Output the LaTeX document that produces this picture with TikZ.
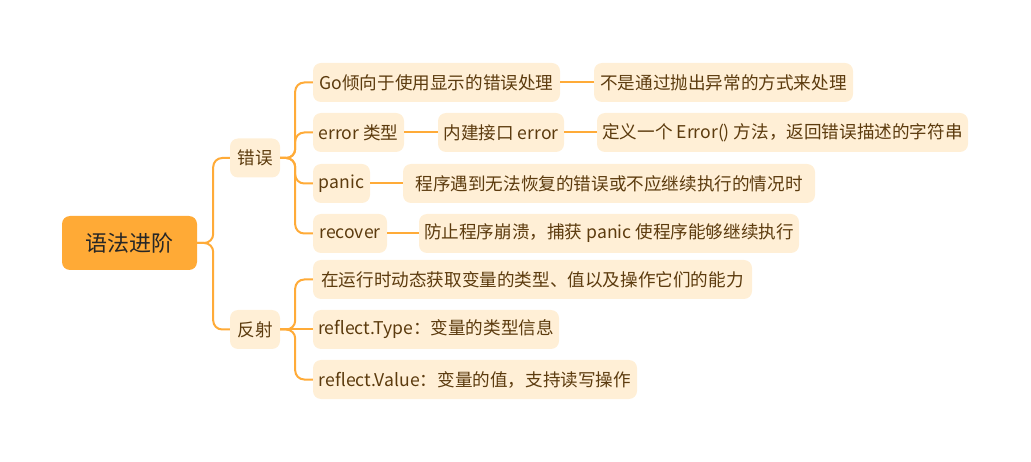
\documentclass[tikz,border=0pt]{standalone}
\usepackage{fontspec}
\setmainfont{Noto Sans CJK SC}
\definecolor{lineC}{HTML}{FFAB38}
\definecolor{rootC}{HTML}{FFAA36}
\definecolor{leafC}{HTML}{FFEFD6}
\definecolor{textC}{HTML}{5C3B0E}
\tikzset{
  leaf/.style={draw=none, fill=leafC, rounded corners=8pt, inner sep=0pt,
    minimum height=39pt, text=textC, font=\fontsize{17.6pt}{20pt}\selectfont},
  rootbox/.style={draw=none, fill=rootC, rounded corners=8pt, inner sep=0pt,
    minimum width=135pt, minimum height=54pt, text=black!85, font=\fontsize{22pt}{25pt}\selectfont},
  link/.style={draw=lineC, line width=2pt},
  elbow/.style={draw=lineC, line width=2pt, rounded corners=9pt},
}
\begin{document}
\begin{tikzpicture}[x=1pt, y=-1pt]
\useasboundingbox (0,0) rectangle (1031,462);

\node[rootbox] (root) at (129.5,243) {语法进阶};

\node[leaf, minimum width=50pt] (err) at (255,158) {错误};
\node[leaf, minimum width=50pt] (refl) at (255,329.5) {反射};

\node[leaf, minimum width=247pt] (go) at (436.5,82.5) {Go倾向于使用显示的错误处理};
\node[leaf, minimum width=259pt] (go2) at (723.5,82.5) {不是通过抛出异常的方式来处理};

\node[leaf, minimum width=91pt] (etype) at (358.5,132.5) {error 类型};
\node[leaf, minimum width=126pt] (eiface) at (501,132.5) {内建接口 error};
\node[leaf, minimum width=371pt] (edef) at (782.5,132.5) {定义一个 Error() 方法，返回错误描述的字符串};

\node[leaf, minimum width=57pt] (panic) at (341.5,183.5) {panic};
\node[leaf, minimum width=412pt] (panicd) at (609,183.5) {程序遇到无法恢复的错误或不应继续执行的情况时};

\node[leaf, minimum width=74pt] (recov) at (350,233.5) {recover};
\node[leaf, minimum width=380pt] (recovd) at (609,233.5) {防止程序崩溃，捕获 panic 使程序能够继续执行};

\node[leaf, minimum width=439pt] (r1) at (532.5,279.5) {在运行时动态获取变量的类型、值以及操作它们的能力};
\node[leaf, minimum width=246pt] (r2) at (436,329.5) {reflect.Type：变量的类型信息};
\node[leaf, minimum width=324pt] (r3) at (475,379.5) {reflect.Value：变量的值，支持读写操作};

% root connectors
\draw[elbow] (root.east) -- ++(16,0) |- (err.west);
\draw[elbow] (root.east) -- ++(16,0) |- (refl.west);

% error connectors
\draw[elbow] (err.east) -- ++(15,0) |- (go.west);
\draw[elbow] (err.east) -- ++(15,0) |- (etype.west);
\draw[elbow] (err.east) -- ++(15,0) |- (panic.west);
\draw[elbow] (err.east) -- ++(15,0) |- (recov.west);

% reflect connectors
\draw[elbow] (refl.east) -- ++(15,0) |- (r1.west);
\draw[link] (refl.east) -- (r2.west);
\draw[elbow] (refl.east) -- ++(15,0) |- (r3.west);

% level 3
\draw[link] (go.east) -- (go2.west);
\draw[link] (etype.east) -- (eiface.west);
\draw[link] (eiface.east) -- (edef.west);
\draw[link] (panic.east) -- (panicd.west);
\draw[link] (recov.east) -- (recovd.west);
\end{tikzpicture}
\end{document}
